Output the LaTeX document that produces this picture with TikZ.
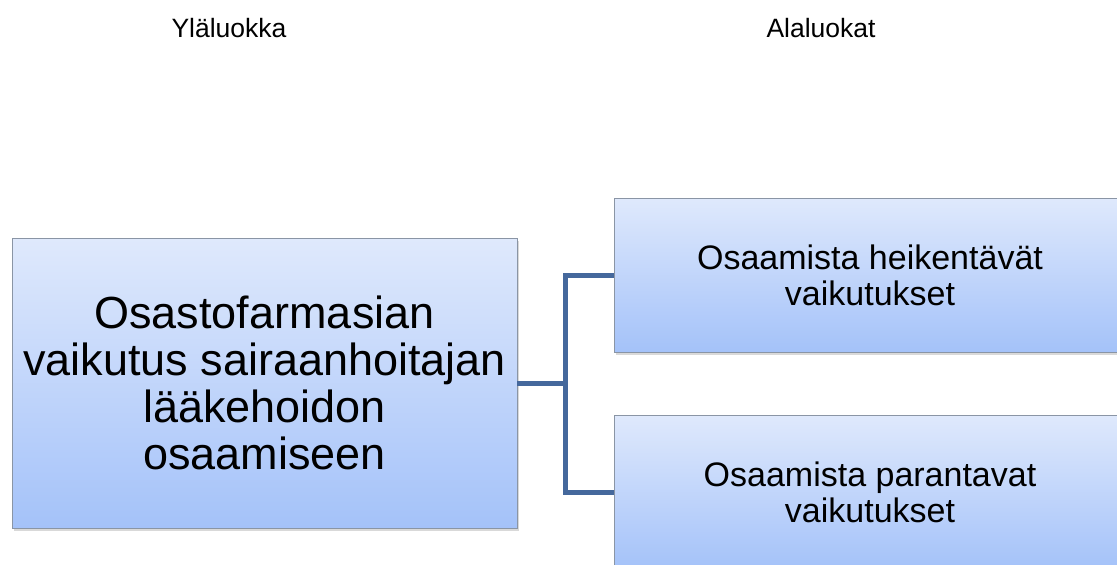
\documentclass[tikz,border=0pt]{standalone}
\usepackage{fontspec}
\setmainfont{Liberation Sans}
\usetikzlibrary{shadows}
\definecolor{boxtop}{HTML}{DFE9FC}
\definecolor{boxbot}{HTML}{A4C2F9}
\definecolor{boxline}{HTML}{8A95A5}
\definecolor{conncol}{HTML}{45689C}
\tikzset{
  catbox/.style={rectangle, draw=boxline, line width=0.8pt, top color=boxtop, bottom color=boxbot,
    align=center, inner sep=0pt, text=black,
    drop shadow={shadow xshift=1.5pt, shadow yshift=-3pt, opacity=0.3, fill=gray}},
  mainbox/.style={catbox, minimum width=505pt, minimum height=290pt,
    font=\fontsize{45}{47}\selectfont},
  subbox/.style={catbox, minimum width=512pt, minimum height=154pt,
    font=\fontsize{34}{36}\selectfont},
  header/.style={font=\fontsize{26.5}{30}\selectfont, inner sep=0pt, anchor=base},
  conn/.style={draw=conncol, line width=5pt, line join=miter}
}
\begin{document}
\begin{tikzpicture}[x=1pt,y=-1pt]
\useasboundingbox (0,0) rectangle (1117,565);
\clip (0,0) rectangle (1117,565);
\node[header] (hy) at (229,37) {Yläluokka};
\node[header] (ha) at (821,37) {Alaluokat};
\node[mainbox] (main) at (264.5,383) {Osastofarmasian\\vaikutus sairaanhoitajan\\lääkehoidon\\osaamiseen};
\node[subbox] (top) at (870,275) {Osaamista heikentävät\\vaikutukset};
\node[subbox] (bot) at (870,492) {Osaamista parantavat\\vaikutukset};
\coordinate (j) at (565,383);
\draw[conn] (main.east) -- (j);
\draw[conn] (top.west) -| (j) |- (bot.west);
\end{tikzpicture}
\end{document}
